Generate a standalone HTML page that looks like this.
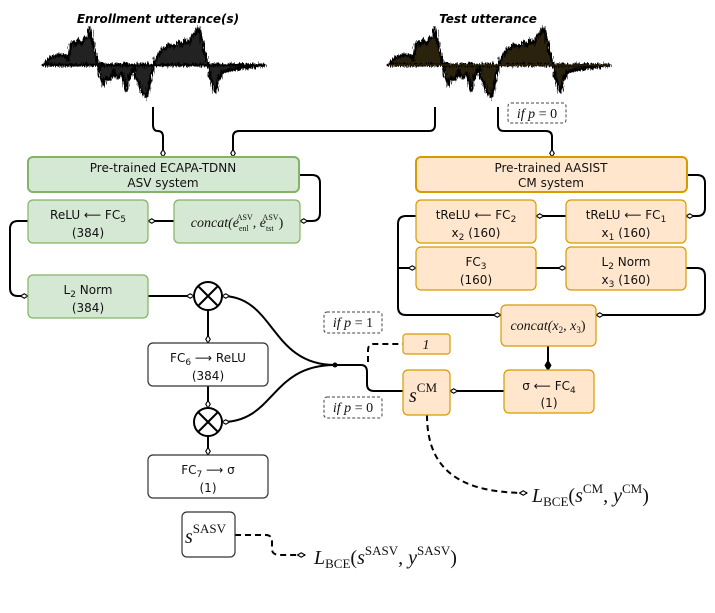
<!DOCTYPE html>
<html><head><meta charset="utf-8"><style>
html,body{margin:0;padding:0;background:#fff;}
svg{display:block;}
.t{font-family:"DejaVu Sans","Liberation Sans",sans-serif;font-size:12px;fill:#111;}
.m{font-family:"Liberation Serif",serif;font-style:italic;fill:#111;}
.r{font-family:"Liberation Serif",serif;fill:#111;}
</style></head><body>
<svg width="715" height="613" viewBox="0 0 715 613" xmlns="http://www.w3.org/2000/svg">
<defs>
<marker id="d" viewBox="0 0 12 8" refX="11" refY="4" markerWidth="9" markerHeight="6" orient="auto" markerUnits="userSpaceOnUse">
<path d="M1,4 L6,1 L11,4 L6,7 Z" fill="#fff" stroke="#000" stroke-width="1.5"/></marker>
<marker id="df" viewBox="0 0 12 8" refX="11" refY="4" markerWidth="11" markerHeight="8" orient="auto" markerUnits="userSpaceOnUse">
<path d="M1,4 L6,1 L11,4 L6,7 Z" fill="#000" stroke="#000" stroke-width="1.5"/></marker>
<filter id="jit" x="-5%" y="-20%" width="110%" height="140%">
<feTurbulence type="fractalNoise" baseFrequency="0.9 0.15" numOctaves="2" seed="3"/>
<feDisplacementMap in="SourceGraphic" scale="7" xChannelSelector="R" yChannelSelector="G"/>
</filter>
<path id="wave" d="M43,65 L50,58 L58,55 L65,55 L68,60 L70,48 L72,42 L75,45 L78,40 L82,44 L85,38 L88,36 L90,28 L92,40 L95,50 L98,65 L100,72 L103,85 L106,78 L110,80 L113,70 L118,78 L122,72 L126,90 L130,75 L134,68 L137,80 L142,92 L146,98 L149,88 L152,72 L155,60 L158,55 L162,50 L165,48 L170,45 L174,47 L178,42 L182,46 L185,40 L188,44 L192,36 L196,33 L199,28 L202,40 L206,58 L208,65 L210,75 L213,85 L215,92 L218,82 L222,72 L230,70 L240,68 L250,67 L265,65 Z"/>
</defs>

<text x="158" y="23" text-anchor="middle" style="font-family:'DejaVu Sans',sans-serif;font-weight:bold;font-style:italic;font-size:12px">Enrollment utterance(s)</text>
<text x="488" y="23" text-anchor="middle" style="font-family:'DejaVu Sans',sans-serif;font-weight:bold;font-style:italic;font-size:12px">Test utterance</text>

<g filter="url(#jit)">
<use href="#wave" fill="#222" stroke="#000" stroke-width="3" stroke-linejoin="round"/>
</g>
<line x1="43" y1="65" x2="265" y2="65" stroke="#000" stroke-width="1"/>
<g transform="translate(345,0)">
<g filter="url(#jit)">
<use href="#wave" fill="#2a2208" stroke="#000" stroke-width="3" stroke-linejoin="round"/>
</g>
<line x1="43" y1="65" x2="265" y2="65" stroke="#3a3010" stroke-width="1"/>
</g>

<g fill="none" stroke="#000" stroke-width="2">
<path d="M153,107 V125 Q153,131 158,131 Q163,131 163,137 V157" marker-end="url(#d)"/>
<path d="M435,107 V125 Q435,131 429,131 H239 Q233,131 233,137 V157" marker-end="url(#d)"/>
<path d="M498,107 V125 Q498,131 504,131 H546 Q552,131 552,137 V157" marker-end="url(#d)"/>
<path d="M299,175 H312 Q320,175 320,183 V213 Q320,221 312,221 H300" marker-end="url(#d)"/>
<path d="M174,221 H148" marker-end="url(#d)"/>
<path d="M28,221 H18 Q10,221 10,229 V288 Q10,296 18,296 H28" marker-end="url(#d)"/>
<path d="M148,296 H194" marker-end="url(#d)"/>
<path d="M208,310 V343" marker-end="url(#d)"/>
<path d="M208,386 V408" marker-end="url(#d)"/>
<path d="M208,436 V455" marker-end="url(#d)"/>
<path d="M335,365 C270,365 275,296 222,296" marker-end="url(#d)"/>
<path d="M335,365 C270,365 275,422 222,422" marker-end="url(#d)"/>
<path d="M335,365 H361 Q367,365 367,372 V384 Q367,391 374,391 H403"/>
<path d="M687,175 H697 Q705,175 705,183 V208 Q705,216 697,216 H686" marker-end="url(#d)"/>
<path d="M566,216 H536" marker-end="url(#d)"/>
<path d="M416,216 H406 Q398,216 398,224 V307 Q398,315 406,315 H501" marker-end="url(#d)"/>
<path d="M398,268 H416" marker-end="url(#d)"/>
<path d="M536,268 H566" marker-end="url(#d)"/>
<path d="M686,268 H697 Q705,268 705,276 V307 Q705,315 697,315 H596" marker-end="url(#d)"/>
<path d="M548,346 V370" marker-end="url(#df)"/>
<path d="M504,391 H450" marker-end="url(#d)"/>
</g>
<circle cx="335" cy="365" r="2.5" fill="#000"/>
<g fill="none" stroke="#000" stroke-width="2" stroke-dasharray="6,4">
<path d="M368,362 V350 Q368,344 374,344 H403"/>
<path d="M427,415 C427,470 460,493 527,493" marker-end="url(#d)"/>
<path d="M235,535 H266 Q272,535 272,542 V549 Q272,555 280,555 H305" marker-end="url(#d)"/>
</g>

<g fill="#d5e8d4" stroke="#82b366">
<rect x="28" y="157" width="271" height="35" rx="5" stroke-width="2"/>
<rect x="28" y="200" width="120" height="43" rx="5" stroke-width="1.2"/>
<rect x="174" y="200" width="126" height="43" rx="5" stroke-width="1.2"/>
<rect x="28" y="275" width="120" height="43" rx="5" stroke-width="1.2"/>
</g>
<text class="t" x="163" y="172" text-anchor="middle">Pre-trained ECAPA-TDNN</text>
<text class="t" x="163" y="187" text-anchor="middle">ASV system</text>
<text class="t" x="88" y="219" text-anchor="middle">ReLU ⟵ FC<tspan font-size="9" dy="3">5</tspan></text>
<text class="t" x="88" y="237" text-anchor="middle">(384)</text>
<text class="m" x="237" y="227" text-anchor="middle" font-size="14">concat(e<tspan font-size="8" dy="4" font-style="normal">enl</tspan><tspan font-size="8" dy="-11" dx="-12" font-style="normal">ASV</tspan><tspan dy="7">, e</tspan><tspan font-size="8" dy="4" font-style="normal">tst</tspan><tspan font-size="8" dy="-11" dx="-11" font-style="normal">ASV</tspan><tspan dy="7" font-style="normal">)</tspan></text>
<text class="t" x="88" y="294" text-anchor="middle">L<tspan font-size="9" dy="3">2</tspan><tspan dy="-3"> Norm</tspan></text>
<text class="t" x="88" y="312" text-anchor="middle">(384)</text>

<g fill="#fff" stroke="#000" stroke-width="2">
<circle cx="208" cy="296" r="14"/>
<circle cx="208" cy="422" r="14"/>
</g>
<g stroke="#000" stroke-width="2">
<path d="M198,286 L218,306 M218,286 L198,306"/>
<path d="M198,412 L218,432 M218,412 L198,432"/>
</g>

<g fill="#fff" stroke="#333" stroke-width="1.2">
<rect x="148" y="343" width="120" height="43" rx="5"/>
<rect x="148" y="455" width="120" height="43" rx="5"/>
<rect x="182" y="512" width="53" height="45" rx="5"/>
</g>
<text class="t" x="208" y="362" text-anchor="middle">FC<tspan font-size="9" dy="3">6</tspan><tspan dy="-3"> ⟶ ReLU</tspan></text>
<text class="t" x="208" y="380" text-anchor="middle">(384)</text>
<text class="t" x="208" y="474" text-anchor="middle">FC<tspan font-size="9" dy="3">7</tspan><tspan dy="-3"> ⟶ σ</tspan></text>
<text class="t" x="208" y="492" text-anchor="middle">(1)</text>
<text class="m" x="185" y="543" font-size="20">s<tspan class="r" font-style="normal" font-size="13" dy="-10">SASV</tspan></text>

<g fill="#ffe6cc" stroke="#d79b00">
<rect x="416" y="157" width="271" height="35" rx="5" stroke-width="2"/>
<rect x="416" y="200" width="120" height="43" rx="5" stroke-width="1.2"/>
<rect x="566" y="200" width="120" height="43" rx="5" stroke-width="1.2"/>
<rect x="416" y="247" width="120" height="43" rx="5" stroke-width="1.2"/>
<rect x="566" y="247" width="120" height="43" rx="5" stroke-width="1.2"/>
<rect x="501" y="305" width="95" height="41" rx="5" stroke-width="1.2"/>
<rect x="504" y="370" width="90" height="43" rx="5" stroke-width="1.2"/>
<rect x="403" y="370" width="47" height="45" rx="5" stroke-width="1.2"/>
<rect x="403" y="334" width="47" height="20" rx="3" stroke-width="1.2"/>
</g>
<text class="t" x="551" y="172" text-anchor="middle">Pre-trained AASIST</text>
<text class="t" x="551" y="187" text-anchor="middle">CM system</text>
<text class="t" x="476" y="219" text-anchor="middle">tReLU ⟵ FC<tspan font-size="9" dy="3">2</tspan></text>
<text class="t" x="476" y="237" text-anchor="middle">x<tspan font-size="9" dy="3">2</tspan><tspan dy="-3"> (160)</tspan></text>
<text class="t" x="626" y="219" text-anchor="middle">tReLU ⟵ FC<tspan font-size="9" dy="3">1</tspan></text>
<text class="t" x="626" y="237" text-anchor="middle">x<tspan font-size="9" dy="3">1</tspan><tspan dy="-3"> (160)</tspan></text>
<text class="t" x="476" y="266" text-anchor="middle">FC<tspan font-size="9" dy="3">3</tspan></text>
<text class="t" x="476" y="284" text-anchor="middle">(160)</text>
<text class="t" x="626" y="266" text-anchor="middle">L<tspan font-size="9" dy="3">2</tspan><tspan dy="-3"> Norm</tspan></text>
<text class="t" x="626" y="284" text-anchor="middle">x<tspan font-size="9" dy="3">3</tspan><tspan dy="-3"> (160)</tspan></text>
<text class="m" x="548" y="330" text-anchor="middle" font-size="14">concat(x<tspan font-size="9" dy="3" font-style="normal">2</tspan><tspan dy="-3">, x</tspan><tspan font-size="9" dy="3" font-style="normal">3</tspan><tspan dy="-3" font-style="normal">)</tspan></text>
<text class="t" x="549" y="390" text-anchor="middle">σ ⟵ FC<tspan font-size="9" dy="3">4</tspan></text>
<text class="t" x="549" y="407" text-anchor="middle">(1)</text>
<text class="m" x="409" y="402" font-size="20">s<tspan class="r" font-style="normal" font-size="13" dy="-10">CM</tspan></text>
<text class="m" x="426" y="349" text-anchor="middle" font-size="14">1</text>

<g fill="#fff" stroke="#444" stroke-width="1" stroke-dasharray="3,2">
<rect x="508" y="103" width="58" height="20" rx="3"/>
<rect x="324" y="312" width="58" height="21" rx="3"/>
<rect x="324" y="397" width="58" height="21" rx="3"/>
</g>
<text class="m" x="537" y="118" text-anchor="middle" font-size="14">if p <tspan font-style="normal">= 0</tspan></text>
<text class="m" x="353" y="327" text-anchor="middle" font-size="14">if p <tspan font-style="normal">= 1</tspan></text>
<text class="m" x="353" y="412" text-anchor="middle" font-size="14">if p <tspan font-style="normal">= 0</tspan></text>

<text class="m" x="532" y="502" font-size="20">L<tspan class="r" font-style="normal" font-size="13" dy="4">BCE</tspan><tspan class="r" font-style="normal" dy="-4">(</tspan>s<tspan class="r" font-style="normal" font-size="13" dy="-9">CM</tspan><tspan dy="9">, y</tspan><tspan class="r" font-style="normal" font-size="13" dy="-9">CM</tspan><tspan class="r" font-style="normal" dy="9">)</tspan></text>
<text class="m" x="314" y="564" font-size="20">L<tspan class="r" font-style="normal" font-size="13" dy="4">BCE</tspan><tspan class="r" font-style="normal" dy="-4">(</tspan>s<tspan class="r" font-style="normal" font-size="13" dy="-9">SASV</tspan><tspan dy="9">, y</tspan><tspan class="r" font-style="normal" font-size="13" dy="-9">SASV</tspan><tspan class="r" font-style="normal" dy="9">)</tspan></text>
</svg>
</body></html>
